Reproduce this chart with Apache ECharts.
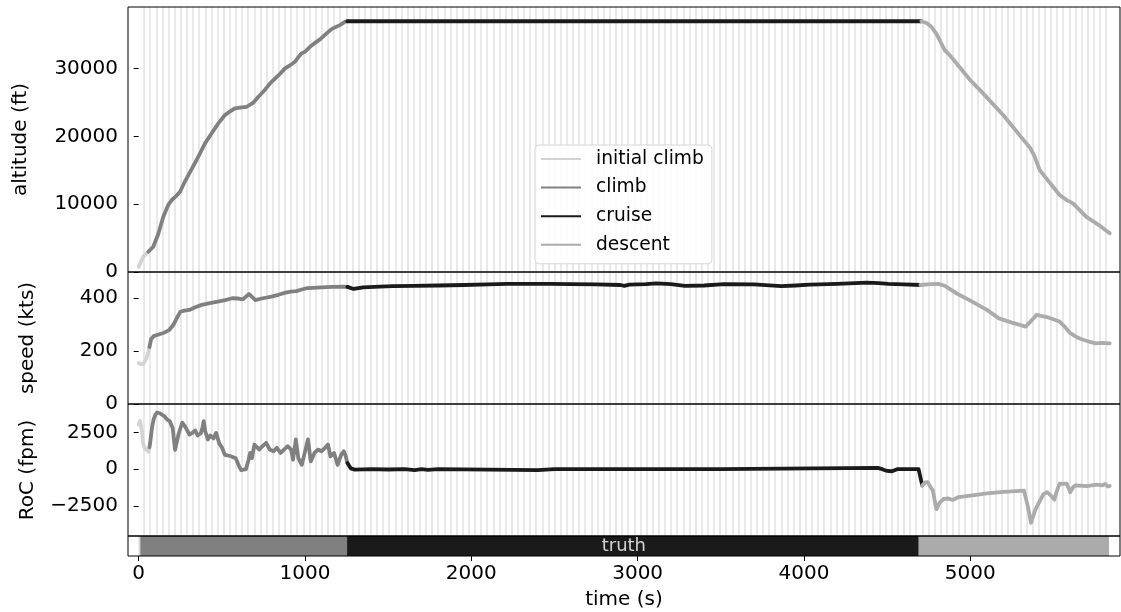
<!DOCTYPE html>
<html>
<head>
<meta charset="utf-8">
<script src="https://cdn.jsdelivr.net/npm/echarts@6/dist/echarts.min.js"></script>
<style>
html,body{margin:0;padding:0;background:#fff;}
#chart{width:1121px;height:612px;}
</style>
</head>
<body>
<div id="chart"></div>
<script>
// ---------- data ----------
const phases = ['initial climb', 'climb', 'cruise', 'descent'];
const phaseColors = ['#d3d3d3', '#808080', '#1a1a1a', '#ababab'];

// altitude (ft) : [time (s), value]
const altInitial = [[0,780],[28,2260],[58,2990]];
const altClimb = [[58,2990],[88,3730],[118,5600],[148,8160],[178,9900],[199,10620],[225,11200],[249,11840],[275,13200],[299,14300],[350,16600],[399,18980],[440,20500],[479,21930],[519,23160],[550,23700],[579,24140],[620,24300],[650,24380],[690,25000],[720,25860],[760,26900],[790,27830],[840,29000],[880,30040],[910,30500],[940,31020],[960,31700],[980,32260],[1000,32500],[1030,33230],[1060,33800],[1090,34320],[1130,35200],[1160,35840],[1190,36200],[1210,36430],[1240,36900],[1255,37000]];
const altCruise = [[1255,37000],[2000,37000],[3000,37000],[4000,37000],[4706,37000]];
const altDescent = [[4706,37000],[4740,36700],[4766,36190],[4800,35000],[4846,32750],[4876,32010],[5000,28300],[5077,26360],[5200,23100],[5337,18980],[5360,18300],[5387,17010],[5417,15050],[5470,13400],[5537,11360],[5580,10600],[5617,10130],[5700,8100],[5780,6800],[5838,5710]];

// speed (kts)
const spdInitial = [[0,154],[15,150],[30,152],[45,170],[58,195],[65,215]];
const spdClimb = [[65,215],[75,245],[90,256],[120,262],[154,269],[185,280],[208,298],[230,325],[251,348],[275,352],[305,355],[340,365],[380,374],[420,380],[476,386],[520,392],[562,399],[600,398],[627,395],[645,405],[663,415],[680,405],[702,392],[740,398],[798,405],[840,412],[884,420],[915,424],[948,426],[980,432],[1013,437],[1050,438],[1099,440],[1160,442],[1228,443],[1255,442]];
const spdCruise = [[1255,442],[1292,434],[1350,440],[1450,443],[1528,445],[1650,446],[1800,447],[1957,449],[2100,451],[2214,453],[2350,453],[2472,453],[2600,452],[2750,451],[2897,449],[2920,446],[2950,450],[3050,452],[3112,455],[3200,452],[3284,446],[3400,447],[3520,452],[3700,451],[3863,445],[3950,447],[4035,450],[4200,453],[4378,458],[4450,456],[4507,453],[4600,451],[4700,449]];
const spdDescent = [[4700,449],[4760,452],[4808,453],[4850,445],[4915,418],[5000,390],[5100,355],[5172,323],[5250,307],[5333,292],[5360,310],[5398,336],[5460,328],[5537,311],[5570,290],[5601,267],[5640,252],[5666,245],[5710,236],[5752,229],[5790,231],[5838,229]];

// rate of climb (fpm)
const rocInitial = [[0,3050],[8,3300],[15,3280],[20,2600],[26,1780],[40,1400],[58,1200],[65,1500]];
const rocClimb = [[65,1500],[69,1780],[80,2800],[90,3400],[100,3700],[111,3870],[130,3800],[154,3630],[170,3400],[187,3280],[197,3400],[205,2800],[212,2000],[219,1320],[240,2400],[262,3170],[280,2900],[305,2360],[325,2500],[340,2640],[355,2300],[374,2450],[385,2900],[391,3280],[400,2600],[416,2030],[430,2300],[450,2100],[466,2480],[486,1710],[500,1500],[519,970],[550,900],[584,740],[600,300],[616,-70],[645,0],[660,600],[670,1108],[681,761],[696,1686],[708,1802],[724,1339],[745,1571],[767,1802],[788,1339],[810,1224],[831,1455],[853,1108],[874,1339],[896,1571],[917,1339],[928,645],[945,2033],[960,761],[981,298],[1003,1339],[1018,2033],[1035,530],[1057,1108],[1078,1339],[1099,1224],[1121,1455],[1138,1686],[1153,877],[1175,1108],[1196,298],[1218,992],[1233,1224],[1245,900],[1255,420]];
const rocCruise = [[1255,420],[1275,60],[1300,-30],[1400,0],[1500,-20],[1600,0],[1660,-60],[1700,0],[1740,-50],[1800,0],[2400,-60],[2500,0],[3500,0],[4443,90],[4470,0],[4500,-120],[4529,-140],[4560,0],[4689,0],[4711,-1110]];
const rocDescent = [[4711,-1110],[4730,-900],[4743,-880],[4760,-1200],[4775,-1460],[4790,-2400],[4797,-2730],[4815,-2300],[4840,-2030],[4870,-2000],[4894,-2100],[4930,-1900],[5001,-1800],[5100,-1650],[5200,-1550],[5323,-1460],[5345,-2500],[5365,-3660],[5390,-2800],[5419,-2150],[5440,-1700],[5462,-1570],[5485,-1800],[5505,-2080],[5520,-1500],[5537,-990],[5560,-1000],[5580,-990],[5601,-1570],[5620,-1200],[5633,-1110],[5700,-1150],[5760,-1050],[5794,-1110],[5810,-1000],[5827,-1180],[5838,-1150]];

// truth segments: [start, end, phase index]
const truthSegments = [[0,10,0],[10,1253,1],[1253,4690,2],[4690,5834,3]];

// tick labels
const timeTicks = [0,1000,2000,3000,4000,5000];
const altTicks = [0,10000,20000,30000];
const spdTicks = [0,200,400];
const rocTicks = [-2500,0,2500];

// vertical grid line times
const gridTimes = [];
for (let k = 0; k <= 157; k++) gridTimes.push(32.5 + k * 36.84);

// ---------- chart ----------
const FONT = 'DejaVu Sans';
const xMin = -64, xMax = 5900;
const L = 128, W = 992;
const chart = echarts.init(document.getElementById('chart'), null, {renderer:'canvas'});

const grids = [
  {left:L, top:7, width:W, height:265},
  {left:L, top:272, width:W, height:132},
  {left:L, top:404, width:W, height:132},
  {left:L, top:536, width:W, height:20}
].map(g => Object.assign(g, {show:true, z:2, borderColor:'#000', borderWidth:1, backgroundColor:'transparent'}));

const fmtNum = v => (v < 0 ? '\u2212' + Math.abs(v) : String(v));

function xAxisFor(i) {
  const isBottom = i === 3;
  return {
    type:'value', gridIndex:i, min:xMin, max:xMax,
    axisLine:{show:false},
    splitLine:{show:false},
    axisTick:{show:isBottom, length:5, lineStyle:{color:'#000', width:1}, customValues:timeTicks},
    axisLabel:{show:isBottom, customValues:timeTicks, fontFamily:FONT, fontSize:20, color:'#000', margin:8, formatter:fmtNum},
    name:isBottom ? 'time (s)' : '', nameLocation:'middle', nameGap:34,
    nameTextStyle:{fontFamily:FONT, fontSize:20, color:'#000'}
  };
}
function yAxisFor(i, min, max, ticks, name, gap) {
  return {
    type:'value', gridIndex:i, min:min, max:max,
    axisLine:{show:false}, splitLine:{show:false},
    axisTick:{show:ticks.length>0, length:5, lineStyle:{color:'#000', width:1}, customValues:ticks},
    axisLabel:{show:ticks.length>0, customValues:ticks, fontFamily:FONT, fontSize:20, color:'#000', margin:10, formatter:fmtNum},
    name:name, nameLocation:'middle', nameGap:gap, nameRotate:90,
    nameTextStyle:{fontFamily:FONT, fontSize:20, color:'#000'}
  };
}

const series = [];
// grid lines
for (let g = 0; g < 3; g++) {
  series.push({
    type:'line', xAxisIndex:g, yAxisIndex:g, data:[], silent:true, z:1,
    markLine:{silent:true, z:1, zlevel:0, symbol:['none','none'], label:{show:false}, animation:false,
      lineStyle:{color:'#e4e4e4', width:1.6, type:'solid'},
      emphasis:{disabled:true},
      data:gridTimes.map(t => ({xAxis:t}))}
  });
}
const panelData = [
  [altInitial, altClimb, altCruise, altDescent],
  [spdInitial, spdClimb, spdCruise, spdDescent],
  [rocInitial, rocClimb, rocCruise, rocDescent]
];
panelData.forEach((arrs, g) => {
  arrs.forEach((d, p) => {
    series.push({
      name:phases[p], type:'line', xAxisIndex:g, yAxisIndex:g, data:d,
      showSymbol:false, z:3, animation:false,
      lineStyle:{color:phaseColors[p], width:3.8, join:'round', cap:'round'},
      itemStyle:{color:phaseColors[p]}
    });
  });
});
// truth bar
series.push({
  type:'custom', xAxisIndex:3, yAxisIndex:3, data:truthSegments, silent:true, z:1,
  renderItem:function(params, api){
    const s = api.coord([api.value(0), 1]);
    const e = api.coord([api.value(1), 0]);
    return {type:'rect', shape:{x:s[0], y:s[1], width:e[0]-s[0], height:e[1]-s[1]},
      style:{fill:phaseColors[api.value(2)]}};
  }
});
series.push({
  type:'scatter', xAxisIndex:3, yAxisIndex:3, data:[[(0+5834)/2, 0.5]], symbolSize:0, silent:true, z:5,
  label:{show:true, position:'inside', formatter:'truth', fontFamily:FONT, fontSize:18, color:'#fff'}
});

chart.setOption({
  animation:false,
  backgroundColor:'#fff',
  textStyle:{fontFamily:FONT},
  grid:grids,
  xAxis:[0,1,2,3].map(xAxisFor),
  yAxis:[
    yAxisFor(0, 0, 39100, altTicks, 'altitude (ft)', 97),
    yAxisFor(1, 0, 498, spdTicks, 'speed (kts)', 90),
    yAxisFor(2, -4560, 4450, rocTicks, 'RoC (fpm)', 90),
    yAxisFor(3, 0, 1, [], '', 10)
  ],
  legend:{
    data:phases, orient:'vertical', left:535, top:145, z:10,
    padding:[3,8,8,6], itemGap:6.6, itemWidth:40, itemHeight:2, icon:'rect',
    backgroundColor:'rgba(255,255,255,0.85)', borderColor:'#d6d6d6', borderWidth:1, borderRadius:4,
    textStyle:{fontFamily:FONT, fontSize:18.67, color:'#000', lineHeight:22, padding:[0,0,0,10]},
    selectedMode:false
  },
  series:series
});
</script>
</body>
</html>
